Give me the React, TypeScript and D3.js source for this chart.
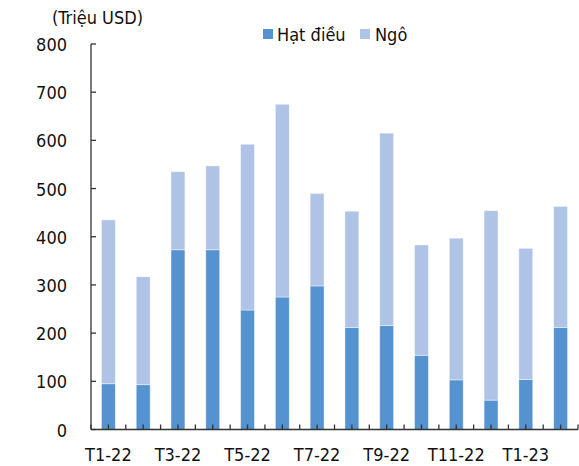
import React from "react";
import * as d3 from "d3";

const months = [
  "T1-22", "T2-22", "T3-22", "T4-22", "T5-22", "T6-22", "T7-22",
  "T8-22", "T9-22", "T10-22", "T11-22", "T12-22", "T1-23", "T2-23",
];
const cashew = [95, 93, 373, 373, 248, 275, 298, 212, 216, 154, 103, 61, 104, 212];
const corn = [340, 224, 162, 174, 344, 400, 192, 241, 399, 229, 294, 393, 272, 251];
const yTicks = [0, 100, 200, 300, 400, 500, 600, 700, 800];
const seriesNames = ["Hạt điều", "Ngô"];
const colors = ["#5592d0", "#aec3e6"];

const width = 579;
const height = 466;
const font = "'DejaVu Sans Condensed', 'DejaVu Sans', sans-serif";

export default function App() {
  const x = d3
    .scaleBand()
    .domain(months)
    .range([91, 578])
    .paddingInner(0.6)
    .paddingOuter(0.3);
  const y = d3.scaleLinear().domain([0, 800]).range([429.5, 44]);

  // stack the two series
  const rows = months.map((m, i) => ({ month: m, cashew: cashew[i], corn: corn[i] }));
  const stacked = d3.stack().keys(["cashew", "corn"])(rows as any);

  const step = x.step();
  const x0 = x.range()[0];
  const tickXs: number[] = [];
  months.forEach((_, i) => {
    tickXs.push(x0 + i * step);
    tickXs.push(x0 + (i + 0.5) * step);
  });
  tickXs.push(x0 + months.length * step);

  return (
    <svg
      width={width}
      height={height}
      style={{ position: "absolute", left: 0, top: 0, background: "#fff" }}
      fontFamily={font}
    >
      <text x={52} y={24} fontSize={18} fill="#111">(Triệu USD)</text>

      {/* legend */}
      <g fontSize={18} fill="#111">
        <rect x={263} y={29} width={10} height={10} fill={colors[0]} />
        <text x={277} y={41}>{seriesNames[0]}</text>
        <rect x={360} y={29} width={10} height={10} fill={colors[1]} />
        <text x={375} y={41}>{seriesNames[1]}</text>
      </g>

      {/* bars */}
      {stacked.map((s, si) => (
        <g key={si} fill={colors[si]}>
          {s.map((d, i) => (
            <rect
              key={i}
              x={x(months[i])}
              width={x.bandwidth()}
              y={y(d[1])}
              height={y(d[0]) - y(d[1])}
              stroke="rgba(255,255,255,0.55)"
              strokeWidth={0.8}
            />
          ))}
        </g>
      ))}

      {/* y axis */}
      <line x1={91} x2={91} y1={y(800)} y2={y(0)} stroke="#333" strokeWidth={1.3} />
      {yTicks.map((t) => (
        <g key={t}>
          <line x1={91} x2={96} y1={y(t)} y2={y(t)} stroke="#333" strokeWidth={1.3} />
          <text x={67} y={y(t) + 7} textAnchor="end" fontSize={18} fill="#111">
            {t}
          </text>
        </g>
      ))}

      {/* x axis */}
      <line x1={91} x2={578} y1={y(0)} y2={y(0)} stroke="#333" strokeWidth={1.3} />
      {tickXs.map((tx, i) => (
        <line key={i} x1={tx} x2={tx} y1={y(0)} y2={y(0) - 5} stroke="#333" strokeWidth={1.3} />
      ))}
      {months.map((m, i) =>
        i % 2 === 0 ? (
          <text
            key={m}
            x={(x(m) as number) + x.bandwidth() / 2}
            y={461}
            textAnchor="middle"
            fontSize={18}
            fill="#111"
          >
            {m}
          </text>
        ) : null
      )}
    </svg>
  );
}
